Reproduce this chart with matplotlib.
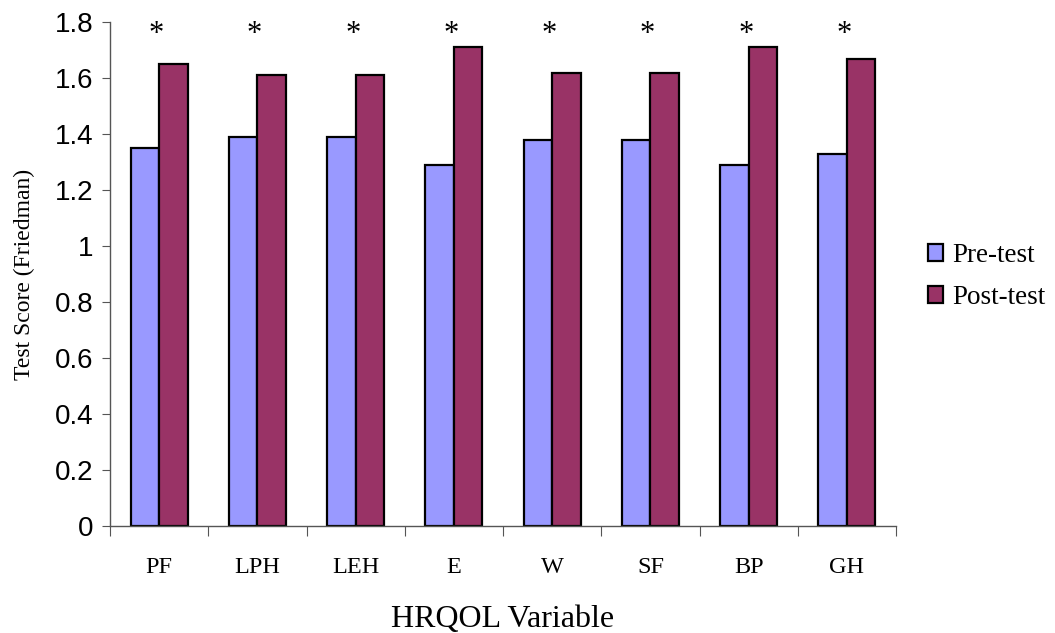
import numpy as np
import matplotlib.pyplot as plt

categories = ["PF", "LPH", "LEH", "E", "W", "SF", "BP", "GH"]
pre_test = [1.35, 1.39, 1.39, 1.29, 1.38, 1.38, 1.29, 1.33]
post_test = [1.65, 1.61, 1.61, 1.71, 1.62, 1.62, 1.71, 1.67]
y_ticks = [0, 0.2, 0.4, 0.6, 0.8, 1, 1.2, 1.4, 1.6, 1.8]
y_labels = ["0", "0.2", "0.4", "0.6", "0.8", "1", "1.2", "1.4", "1.6", "1.8"]

SERIF = "Liberation Serif"
SANS = "Liberation Sans"

fig = plt.figure(figsize=(10.55, 6.33), dpi=100)
ax = fig.add_axes([0.1043, 0.169, 0.745, 0.796])

x = np.arange(len(categories))
w = 0.29
ax.bar(x - w / 2, pre_test, w, color="#9999FF", edgecolor="black", linewidth=1.6,
       label="Pre-test")
ax.bar(x + w / 2, post_test, w, color="#993366", edgecolor="black", linewidth=1.6,
       label="Post-test")

# significance marks
for xi in x:
    ax.text(xi - 0.03, 1.73, "*", ha="center", va="baseline", fontsize=22,
            family=SERIF)

ax.set_xlim(-0.5, len(categories) - 0.5)
ax.set_ylim(0, 1.8)
ax.set_yticks(y_ticks)
ax.set_yticklabels(y_labels, fontsize=20, family=SANS)

ax.set_xticks(np.arange(len(categories) + 1) - 0.5)
ax.set_xticklabels([])
ax.set_xticks(x, minor=True)
ax.set_xticklabels(categories, minor=True, fontsize=17.5, family=SERIF)
ax.tick_params(axis="x", which="minor", length=0, pad=22)
ax.tick_params(axis="x", which="major", length=7, direction="out", color="#555555")
ax.tick_params(axis="y", length=6, direction="out", color="#555555", pad=6)

for s in ["top", "right"]:
    ax.spines[s].set_visible(False)
for s in ["left", "bottom"]:
    ax.spines[s].set_color("#555555")
    ax.spines[s].set_linewidth(1.0)

ax.set_ylabel("Test Score (Friedman)", fontsize=17, family=SERIF, labelpad=14)
ax.set_xlabel("HRQOL Variable", fontsize=23, family=SERIF, labelpad=20)

leg = ax.legend(loc="center left", bbox_to_anchor=(1.01, 0.495), frameon=False,
                prop={"family": SERIF, "size": 19.5}, handlelength=0.55,
                handleheight=0.55, handletextpad=0.35, labelspacing=0.62)

fig.savefig("out.png", dpi=100)
